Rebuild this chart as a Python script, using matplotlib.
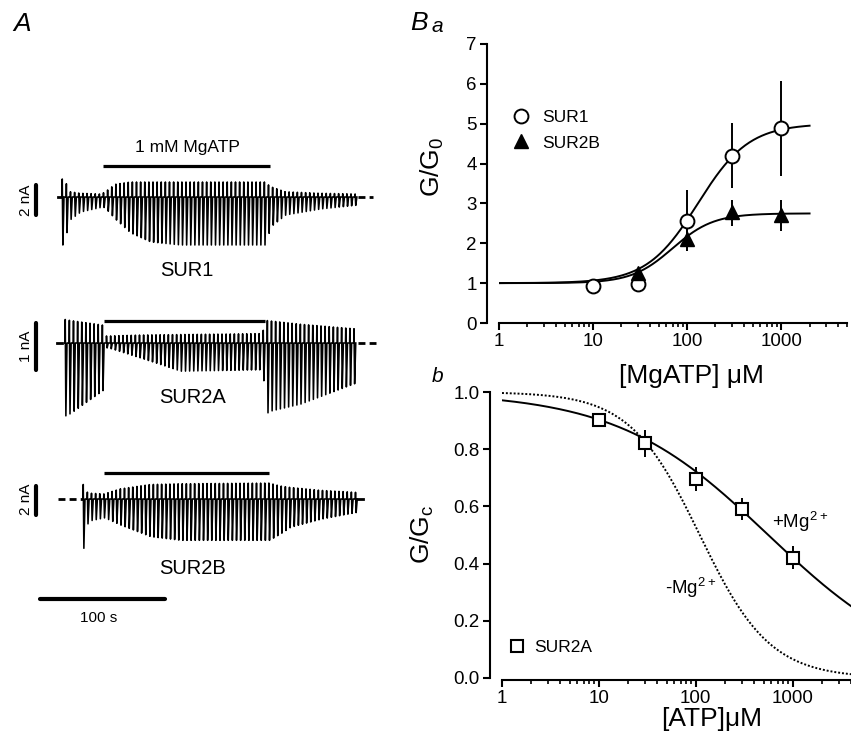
import numpy as np
import matplotlib
matplotlib.use('Agg')
import matplotlib.pyplot as plt

plt.rcParams['font.family'] = ['Liberation Sans', 'DejaVu Sans']
plt.rcParams['mathtext.default'] = 'regular'

W, H = 851, 732

# ---------------- panel A: current traces (envelopes) ----------------
# time in s, current in nA
pulse_period = 3.3
drug_on = [50.4, 51.2, 51.2]
drug_off = [184.0, 180.0, 183.2]

sur1_t = [17.6, 20.8, 24, 32, 48, 51.2, 60, 72, 88, 112, 180, 184, 196, 224, 252.8]
sur1_top = [1.2, 0.9, 0.35, 0.25, 0.2, 0.3, 0.85, 1.0, 1.0, 1.0, 1.0, 0.7, 0.35, 0.25, 0.2]
sur1_bot = [-3.2, -2.4, -1.5, -1.0, -0.7, -0.7, -1.5, -2.4, -3.0, -3.2, -3.2, -2.0, -1.2, -0.8, -0.55]

sur2a_t = [20, 24, 50.4, 52, 56, 80, 112, 177.6, 180.8, 184, 208, 252.8]
sur2a_top = [0.5, 0.48, 0.38, 0.15, 0.15, 0.17, 0.18, 0.2, 0.48, 0.47, 0.4, 0.3]
sur2a_bot = [-1.55, -1.5, -1.0, -0.1, -0.12, -0.32, -0.6, -0.57, -1.5, -1.45, -1.3, -0.85]

sur2b_t = [34.4, 36.8, 40, 51.2, 64, 88, 112, 183.2, 192, 200, 224, 254.4]
sur2b_top = [1.0, 0.5, 0.4, 0.35, 0.7, 1.0, 1.05, 1.1, 0.9, 0.8, 0.6, 0.45]
sur2b_bot = [-3.4, -1.8, -1.5, -1.3, -1.8, -2.6, -2.85, -2.85, -2.4, -1.95, -1.4, -0.9]

# ---------------- panel B data ----------------
mg_atp = [10, 30, 100, 300, 1000]
sur1_g = [0.94, 0.97, 2.55, 4.2, 4.88]
sur1_err_lo = [0.05, 0.05, 0.75, 0.82, 1.18]
sur1_err_hi = [0.05, 0.05, 0.78, 0.82, 1.2]
sur2b_x = [30, 100, 300, 1000]
sur2b_g = [1.25, 2.12, 2.78, 2.7]
sur2b_err_lo = [0.05, 0.32, 0.34, 0.39]
sur2b_err_hi = [0.05, 0.3, 0.31, 0.39]
# Hill fits (EC50 uM, slope, max)
sur1_fit = (130.0, 1.6, 5.0)
sur2b_fit = (70.0, 2.0, 2.75)

atp = [10, 30, 100, 300, 1000]
sur2a_g = [0.903, 0.82, 0.695, 0.59, 0.42]
sur2a_err = [0.01, 0.047, 0.042, 0.038, 0.04]
plus_mg_fit = (560.0, 0.555)
minus_mg_fit = (110.0, 1.2)


def fx(px):
    return px / W


def fy(py):
    return 1 - py / H


fig = plt.figure(figsize=(W / 100, H / 100), dpi=100)

# trace axes: 1.25 px per s, t=0 at x=40 px
t_left, t_right = -32, 288


def trace_axes(top_px, bot_px, base_px, px_per_na):
    ax = fig.add_axes([0, fy(bot_px), 400 / W, (bot_px - top_px) / H])
    ax.set_xlim(t_left, t_right)
    ax.set_ylim(-(bot_px - base_px) / px_per_na, (base_px - top_px) / px_per_na)
    ax.axis('off')
    return ax


def draw_trace(ax, env_t, env_top, env_bot):
    t0 = np.arange(env_t[0], env_t[-1] + 0.01, pulse_period)
    top = np.interp(t0, env_t, env_top)
    bot = np.interp(t0, env_t, env_bot)
    xs, ys = [], []
    for t, a, b in zip(t0, top, bot):
        xs += [t, t + 0.2, t + 0.7, t + 1.6]
        ys += [0, a, b, 0]
    ax.plot(xs, ys, color='k', lw=1.15)


ax1 = trace_axes(130, 290, 197, 15.0)
draw_trace(ax1, sur1_t, sur1_top, sur1_bot)
ax1.plot([14.4, 17.6], [0, 0], color='k', lw=2)
ax1.plot([254, 266.4], [0, 0], color='k', lw=2, ls=(0, (2.5, 1.5)))
ax1.plot([drug_on[0], drug_off[0]], [2.1, 2.1], color='k', lw=2.3, solid_capstyle='butt')
ax1.text(117.6, 3.27, '1 mM MgATP', ha='center', va='center', fontsize=12.5)
ax1.text(117.6, -4.87, 'SUR1', ha='center', va='center', fontsize=14.5)
ax1.plot([-3.2, -3.2], [-1.2, 0.8], color='k', lw=3, solid_capstyle='round')
ax1.text(-11.5, -0.2, '2 nA', rotation=90, ha='center', va='center', fontsize=11)

ax2 = trace_axes(300, 420, 343, 47.0)
draw_trace(ax2, sur2a_t, sur2a_top, sur2a_bot)
ax2.plot([13.6, 17.6], [0, 0], color='k', lw=2)
ax2.plot([254, 268.8], [0, 0], color='k', lw=2, ls=(0, (2.5, 1.5)))
ax2.plot([drug_on[1], drug_off[1]], [0.47, 0.47], color='k', lw=2.3, solid_capstyle='butt')
ax2.text(122.4, -1.17, 'SUR2A', ha='center', va='center', fontsize=14.5)
ax2.plot([-3.2, -3.2], [-0.57, 0.43], color='k', lw=3, solid_capstyle='round')
ax2.text(-11.5, -0.07, '1 nA', rotation=90, ha='center', va='center', fontsize=11)

ax3 = trace_axes(460, 625, 499, 14.5)
draw_trace(ax3, sur2b_t, sur2b_top, sur2b_bot)
ax3.plot([14.4, 34.4], [0, 0], color='k', lw=2, ls=(0, (2.5, 1.5)))
ax3.plot([254.4, 258], [0, 0], color='k', lw=2)
ax3.plot([drug_on[2], drug_off[2]], [1.79, 1.79], color='k', lw=2.3, solid_capstyle='butt')
ax3.text(122.4, -4.76, 'SUR2B', ha='center', va='center', fontsize=14.5)
ax3.plot([-3.2, -3.2], [-1.1, 0.9], color='k', lw=3, solid_capstyle='round')
ax3.text(-11.5, -0.05, '2 nA', rotation=90, ha='center', va='center', fontsize=11)
# time scale bar 100 s
ax3.plot([0, 100], [-6.9, -6.9], color='k', lw=3, solid_capstyle='round')
ax3.text(47.2, -8.2, '100 s', ha='center', va='center', fontsize=11)

fig.text(fx(22), fy(24), 'A', fontsize=19, style='italic', ha='center', va='center')

# ---------------- panel Ba ----------------
axa = fig.add_axes([fx(499), fy(323), (847 - 499) / W, (323 - 44) / H])
axa.set_xscale('log')
axa.set_xlim(1, 5000)
axa.set_ylim(0, 7)
xx = np.logspace(0, np.log10(2000), 300)
for ec, h, mx in [sur1_fit, sur2b_fit]:
    axa.plot(xx, 1 + (mx - 1) / (1 + (ec / xx) ** h), color='k', lw=1.4)
axa.errorbar(mg_atp, sur1_g, yerr=[sur1_err_lo, sur1_err_hi], fmt='none',
             ecolor='k', elinewidth=1.4, capsize=0, zorder=2)
axa.plot(mg_atp, sur1_g, 'o', ms=10, mfc='white', mec='k', mew=1.4, label='SUR1', zorder=3)
axa.errorbar(sur2b_x, sur2b_g, yerr=[sur2b_err_lo, sur2b_err_hi], fmt='none',
             ecolor='k', elinewidth=1.4, capsize=0, zorder=2)
axa.plot(sur2b_x, sur2b_g, '^', ms=10, mfc='k', mec='k', label='SUR2B', zorder=4)
axa.legend(loc='upper left', bbox_to_anchor=(-0.012, 0.82), frameon=False, fontsize=12.5,
           handletextpad=0.6, labelspacing=0.6, handlelength=1.2)
axa.set_yticks(range(8))
axa.set_xticks([1, 10, 100, 1000])
axa.set_xticklabels(['1', '10', '100', '1000'])

# ---------------- panel Bb ----------------
axb = fig.add_axes([fx(502), fy(678), (851 - 502) / W, (678 - 392) / H])
axb.set_xscale('log')
axb.set_xlim(1, 4000)
axb.set_ylim(0, 1.0)
xb = np.logspace(0, np.log10(4000), 300)
axb.plot(xb, 1 / (1 + (xb / plus_mg_fit[0]) ** plus_mg_fit[1]), color='k', lw=1.4)
axb.plot(xb, 1 / (1 + (xb / minus_mg_fit[0]) ** minus_mg_fit[1]), color='k', lw=1.4,
         ls=(0, (1, 1)))
axb.errorbar(atp, sur2a_g, yerr=sur2a_err, fmt='none', ecolor='k', elinewidth=1.4,
             capsize=0, zorder=2)
axb.plot(atp, sur2a_g, 's', ms=8.5, mfc='white', mec='k', mew=1.5, label='SUR2A', zorder=3)
axb.legend(loc='lower left', bbox_to_anchor=(-0.026, 0.025), frameon=False, fontsize=12.5,
           handletextpad=0.5, handlelength=1.0)
axb.text(300 * 2.05, 0.545, '+Mg$^{2+}$', fontsize=13.5, va='center')
axb.text(48, 0.315, '-Mg$^{2+}$', fontsize=13.5, va='center')
axb.set_yticks([0, 0.2, 0.4, 0.6, 0.8, 1.0])
axb.set_yticklabels(['0.0', '0.2', '0.4', '0.6', '0.8', '1.0'])
axb.set_xticks([1, 10, 100, 1000])
axb.set_xticklabels(['1', '10', '100', '1000'])

for ax, off_x in [(axa, 0), (axb, 1.5)]:
    for s in ['top', 'right']:
        ax.spines[s].set_visible(False)
    ax.spines['left'].set_position(('outward', 9))
    ax.spines['bottom'].set_position(('outward', off_x))
    for s in ['left', 'bottom']:
        ax.spines[s].set_linewidth(1.5)
    ax.tick_params(which='major', length=5, width=1.5, labelsize=13.5, direction='out', pad=2)
    ax.tick_params(which='minor', length=3, width=1.2, direction='out')
    ax.tick_params(axis='y', which='minor', left=False)
    ax.set_facecolor('none')

fig.text(fx(432), fy(167), 'G/G$_0$', rotation=90, fontsize=19, ha='center', va='center')
fig.text(fx(691), fy(376), '[MgATP] \u03bcM', fontsize=19, ha='center', va='center')
fig.text(fx(422), fy(534), 'G/G$_c$', rotation=90, fontsize=19, ha='center', va='center')
fig.text(fx(712), fy(731), '[ATP]\u03bcM', fontsize=19, ha='center', va='bottom')
fig.text(fx(419), fy(23), 'B', fontsize=19, style='italic', ha='center', va='center')
fig.text(fx(437), fy(27), 'a', fontsize=15, style='italic', ha='center', va='center')
fig.text(fx(438), fy(376), 'b', fontsize=15, style='italic', ha='center', va='center')

fig.savefig('out.png', dpi=100)
